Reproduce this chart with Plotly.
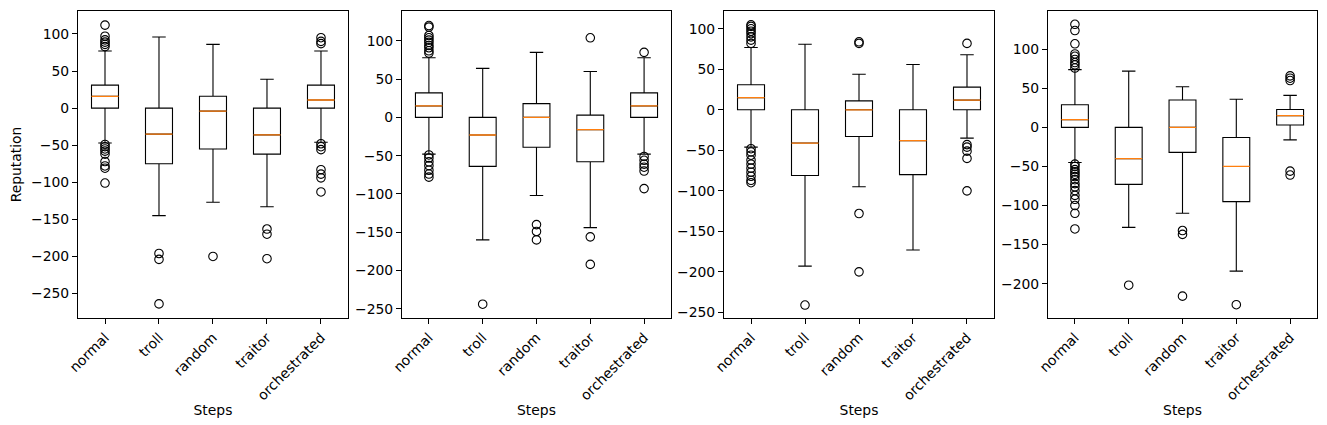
import plotly.graph_objects as go

categories = ["normal", "troll", "random", "traitor", "orchestrated"]

# panel 1
p1_q1 = [0, -75, -55, -62, 0]
p1_med = [16, -35, -4, -36, 11]
p1_q3 = [31, 0, 16, 0, 31]
p1_lo = [-47, -145, -127, -133, -46]
p1_hi = [77, 96, 86, 39, 77]
p1_out = [
    [112, 97, 92, 89, 86, 83, -49, -52, -55, -58, -62, -72, -78, -81, -101],
    [-196, -204, -264],
    [-200],
    [-163, -170, -203],
    [95, 90, 87, -48, -52, -56, -83, -89, -94, -113],
]

# panel 2
p2_q1 = [0, -64, -39, -58, 0]
p2_med = [15, -23, 0, -16, 15]
p2_q3 = [32, 0, 18, 3, 32]
p2_lo = [-48, -160, -102, -144, -48]
p2_hi = [78, 64, 85, 60, 78]
p2_out = [
    [120, 118, 107, 104, 101, 98, 94, 91, 87, 84, -49, -53, -58, -63, -69, -74, -78],
    [-244],
    [-140, -149, -160],
    [104, -156, -192],
    [85, -51, -56, -61, -65, -70, -93],
]

# panel 3
p3_q1 = [0, -81, -33, -80, 0]
p3_med = [15, -41, 0, -38, 12]
p3_q3 = [31, 0, 11, 0, 28]
p3_lo = [-46, -193, -95, -173, -35]
p3_hi = [77, 81, 44, 56, 68]
p3_out = [
    [105, 103, 100, 97, 94, 90, 86, 82, -48, -52, -56, -62, -67, -72, -77, -82, -87, -90],
    [-241],
    [84, 82, -128, -200],
    [],
    [82, -43, -46, -51, -60, -100],
]

# panel 4
p4_q1 = [0, -73, -32, -95, 3]
p4_med = [10, -40, 0, -50, 15]
p4_q3 = [29, 0, 35, -13, 23]
p4_lo = [-45, -128, -110, -184, -16]
p4_hi = [74, 72, 52, 36, 41]
p4_out = [
    [132, 124, 107, 94, 91, 87, 83, 80, 76, -47, -50, -54, -57, -60, -63, -67, -72, -76, -81, -87, -92, -100, -110, -130],
    [-202],
    [-132, -137, -216],
    [-227],
    [66, 63, 60, -56, -61],
]

panels = [
    (p1_q1, p1_med, p1_q3, p1_lo, p1_hi, p1_out),
    (p2_q1, p2_med, p2_q3, p2_lo, p2_hi, p2_out),
    (p3_q1, p3_med, p3_q3, p3_lo, p3_hi, p3_out),
    (p4_q1, p4_med, p4_q3, p4_lo, p4_hi, p4_out),
]
y_ranges = [[-283, 131], [-262, 139], [-257, 122], [-244, 149]]
x_domains = [[0, 0.2179], [0.2615, 0.4786], [0.5214, 0.7393], [0.7829, 1.0]]

font = dict(family="DejaVu Sans", size=13.9, color="black")
fig = go.Figure()

for i, (q1, med, q3, lo, hi, out) in enumerate(panels):
    n = "" if i == 0 else str(i + 1)
    xa, ya = "x" + n, "y" + n
    fig.add_trace(go.Box(x=categories, q1=q1, median=med, q3=q3,
                         lowerfence=lo, upperfence=hi, boxpoints=False, width=0.5,
                         line=dict(color="black", width=1.1), fillcolor="rgba(0,0,0,0)",
                         whiskerwidth=0.5, xaxis=xa, yaxis=ya, showlegend=False))
    # orange median line on top
    fig.add_trace(go.Box(x=categories, q1=med, median=med, q3=med,
                         lowerfence=med, upperfence=med, boxpoints=False, width=0.5,
                         line=dict(color="#ff7f0e", width=1.3), fillcolor="rgba(0,0,0,0)",
                         whiskerwidth=0, xaxis=xa, yaxis=ya, showlegend=False))
    ox, oy = [], []
    for c, vals in zip(categories, out):
        ox += [c] * len(vals)
        oy += vals
    fig.add_trace(go.Scatter(x=ox, y=oy, mode="markers", xaxis=xa, yaxis=ya,
                             marker=dict(symbol="circle-open", size=8.5, color="black",
                                         line=dict(width=1.1)),
                             showlegend=False))

    axis_common = dict(showline=True, mirror=True, linecolor="black", linewidth=1.1,
                       ticks="outside", ticklen=5, tickwidth=1.1, tickcolor="black",
                       showgrid=False, zeroline=False, tickfont=font, automargin=False)
    fig.layout["xaxis" + n] = dict(axis_common, domain=x_domains[i], anchor=ya,
                                   type="category", range=[-0.5, 4.5], tickangle=-45,
                                   title=dict(text="Steps", font=font, standoff=2))
    fig.layout["yaxis" + n] = dict(axis_common, domain=[0, 1], anchor=xa,
                                   range=y_ranges[i], dtick=50, tick0=0)

fig.layout.yaxis.title = dict(text="Reputation", font=font, standoff=6)

# page has an 8px body margin, so size the figure to end at the window edge
fig.update_layout(width=1319, height=417, boxmode="overlay",
                  margin=dict(l=70, r=10, t=3, b=107),
                  paper_bgcolor="white", plot_bgcolor="white", font=font)

fig.write_html("out.html")
